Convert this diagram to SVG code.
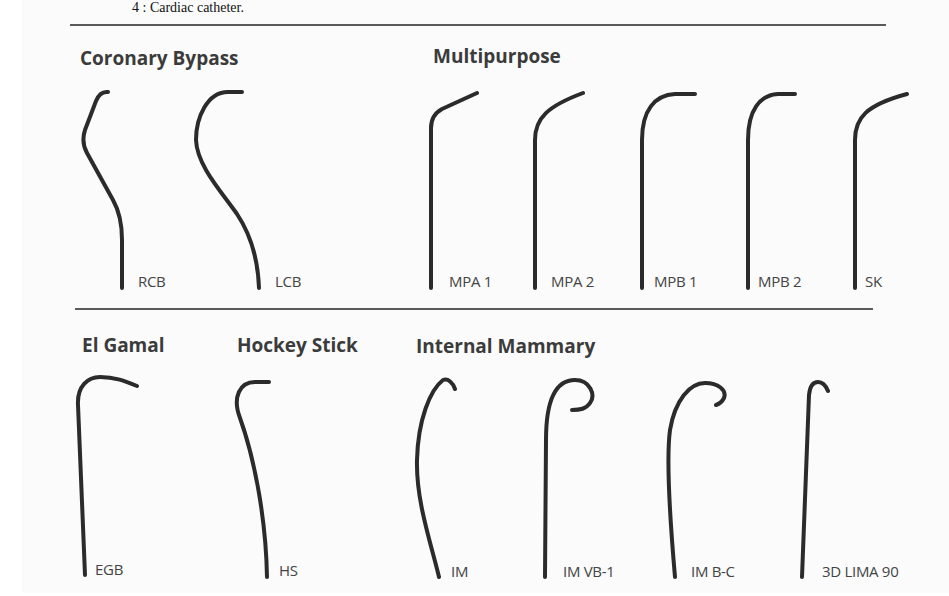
<svg xmlns="http://www.w3.org/2000/svg" width="949" height="596" viewBox="0 0 949 596">
  <style>
    .rule { stroke: #5a5a5a; stroke-width: 2; fill: none; }
    .cath { stroke: #2b2b2b; stroke-width: 4; fill: none; stroke-linecap: round; stroke-linejoin: round; }
    .head { font-family: "Open Sans", "Noto Sans", sans-serif; font-weight: 700; font-size: 19px; fill: #3b3b3b; }
    .lbl { font-family: "Open Sans", "Noto Sans", sans-serif; font-size: 15px; letter-spacing: -0.3px; fill: #444; }
    .cap { font-family: "Liberation Serif", serif; font-size: 14px; fill: #111; }
  </style>

  <rect x="0" y="0" width="949" height="596" fill="#ffffff"/>
  <rect x="22" y="0" width="927" height="593" fill="#fafbfa"/>

  <text class="cap" x="132" y="12">4 : Cardiac catheter.</text>

  <!-- section rules -->
  <line class="rule" x1="70" y1="25" x2="886" y2="25"/>
  <line class="rule" x1="75" y1="309" x2="873" y2="309"/>

  <!-- group headings -->
  <text class="head" x="80" y="65">Coronary Bypass</text>
  <text class="head" x="433" y="63">Multipurpose</text>
  <text class="head" x="82" y="352">El Gamal</text>
  <text class="head" x="237" y="352">Hockey Stick</text>
  <text class="head" x="416" y="353">Internal Mammary</text>

  <g id="connectors"></g>

  <!-- Coronary bypass -->
  <g id="rcb">
    <path class="cath" d="M 108 92 Q 100 91 96 101 L 85 130 Q 81 142 87 153 L 113 200 Q 122 216 122 240 L 122 288"/>
    <text class="lbl" x="138" y="287">RCB</text>
  </g>
  <g id="lcb">
    <path class="cath" d="M 242 92 L 228 92 C 207 92 196 118 196 140 C 197 165 220 190 237 214 C 251 235 258 260 259 288"/>
    <text class="lbl" x="275" y="287">LCB</text>
  </g>

  <!-- Multipurpose -->
  <g id="mpa1">
    <path class="cath" d="M 431 288 L 431 128 Q 431 115 442 109 L 477 93"/>
    <text class="lbl" x="449" y="287">MPA 1</text>
  </g>
  <g id="mpa2">
    <path class="cath" d="M 535 288 L 535 140 C 535 118 548 106 583 93"/>
    <text class="lbl" x="551" y="287">MPA 2</text>
  </g>
  <g id="mpb1">
    <path class="cath" d="M 642 288 L 642 140 C 642 110 655 95 675 94 L 695 94"/>
    <text class="lbl" x="654" y="287">MPB 1</text>
  </g>
  <g id="mpb2">
    <path class="cath" d="M 748 288 L 748 140 C 748 110 760 95 778 94 L 795 94"/>
    <text class="lbl" x="758" y="287">MPB 2</text>
  </g>
  <g id="sk">
    <path class="cath" d="M 855 288 L 855 140 C 855 118 866 105 907 94"/>
    <text class="lbl" x="865" y="287">SK</text>
  </g>

  <!-- El Gamal / Hockey stick -->
  <g id="egb">
    <path class="cath" d="M 85 575 L 78 405 C 77 386 88 377 100 377 C 115 377 125 381 137 386"/>
    <text class="lbl" x="95" y="575">EGB</text>
  </g>
  <g id="hs">
    <path class="cath" d="M 267 577 C 266 520 255 460 240 418 C 232 397 240 382 255 382 L 269 382"/>
    <text class="lbl" x="279" y="576">HS</text>
  </g>

  <!-- Internal mammary -->
  <g id="im">
    <path class="cath" d="M 439 577 C 430 540 416 500 417 460 C 418 420 430 390 443 380 C 448 378 453 383 455 389"/>
    <text class="lbl" x="451" y="577">IM</text>
  </g>
  <g id="imvb1">
    <path class="cath" d="M 545 577 L 546 440 C 546 400 555 380 575 380 C 590 380 596 395 590 403 C 586 409 580 410 572 410"/>
    <text class="lbl" x="563" y="577">IM VB-1</text>
  </g>
  <g id="imbc">
    <path class="cath" d="M 675 577 C 670 520 666 460 670 430 C 675 400 690 383 705 383 C 718 383 727 390 724 398 C 722 402 719 404 716 405"/>
    <text class="lbl" x="691" y="577">IM B-C</text>
  </g>
  <g id="lima90">
    <path class="cath" d="M 802 577 L 809 395 C 810 385 814 382 818 382 C 823 382 826 386 828 391"/>
    <text class="lbl" x="822" y="577">3D LIMA 90</text>
  </g>
</svg>
